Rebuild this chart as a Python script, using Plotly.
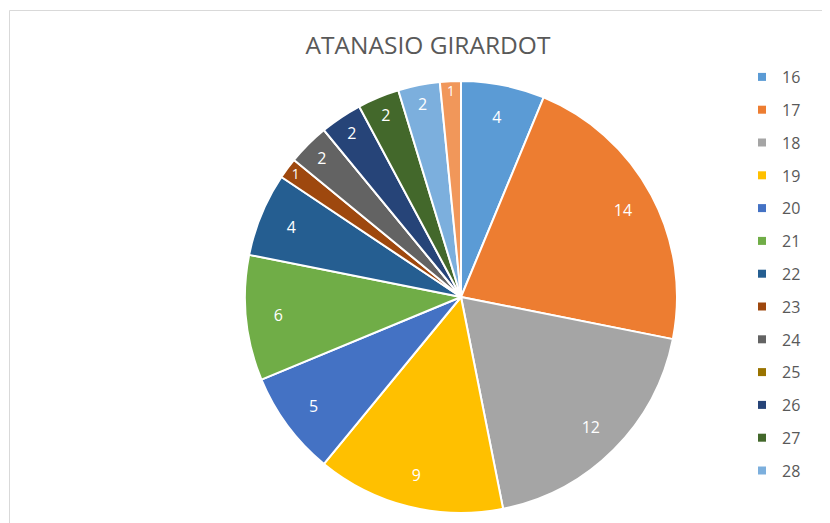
import plotly.graph_objs as go

# slice values, clockwise from 12 o'clock
ages = ['16', '17', '18', '19', '20', '21', '22', '23', '24', '25', '26', '27', '28', '29']
counts = [4, 14, 12, 9, 5, 6, 4, 1, 2, 0, 2, 2, 2, 1]
colors = ['#5B9BD5', '#ED7D31', '#A5A5A5', '#FFC000', '#4472C4', '#70AD47', '#255E91',
          '#9E480E', '#636363', '#997300', '#264478', '#43682B', '#7CAFDD', '#F1975A']
legend_ages = ages[:13]  # the legend in the original stops at 28

W, H = 830, 523
off = 8  # page body margin pushes the figure 8px right and down
cx, cy, r = 461 - off, 297 - off, 216
pie_domain = dict(x=[(cx - r) / W, (cx + r) / W], y=[(H - cy - r) / H, (H - cy + r) / H])

fig = go.Figure()

# coloured slices
fig.add_trace(
    go.Pie(
        labels=ages, values=counts, sort=False, direction='clockwise', rotation=0,
        marker=dict(colors=colors, line=dict(color='white', width=2)),
        textinfo='none', domain=pie_domain, showlegend=False, hoverinfo='label+value'
    )
)

# transparent ring on top that carries the value labels near the rim
fig.add_trace(
    go.Pie(
        labels=ages, values=counts, sort=False, direction='clockwise', rotation=0, hole=0.7,
        marker=dict(colors=['rgba(0,0,0,0)'] * len(ages), line=dict(width=0)),
        textinfo='value', textposition='inside', insidetextorientation='horizontal',
        textfont=dict(color='white', size=16, family='Open Sans'),
        domain=pie_domain, showlegend=False, hoverinfo='skip'
    )
)

# legend entries (one group each so the spacing can be set)
for age, col in zip(legend_ages, colors):
    fig.add_trace(
        go.Scatter(x=[None], y=[None], mode='markers', name=age, legendgroup=age,
                   marker=dict(symbol='square', size=8, color=col))
    )

fig.update_layout(
    width=W, height=H,
    margin=dict(l=0, r=0, t=0, b=0),
    paper_bgcolor='white', plot_bgcolor='white',
    title=dict(text='ATANASIO GIRARDOT', x=(428 - off) / W, xanchor='center',
               y=1 - (45 - off) / H, yanchor='middle',
               font=dict(family='Open Sans', size=24.5, color='#595959')),
    xaxis=dict(visible=False), yaxis=dict(visible=False),
    legend=dict(x=(742 - off) / W, xanchor='left', y=1 - (60 - off) / H, yanchor='top', tracegroupgap=9,
                font=dict(family='Open Sans', size=16, color='#595959'), bgcolor='rgba(0,0,0,0)'),
    shapes=[dict(type='rect', xref='paper', yref='paper', x0=(9.5 - off) / W, x1=1.05, y0=-0.05,
                 y1=1 - (10.5 - off) / H, line=dict(color='#d9d9d9', width=1))]
)

fig.write_html("out.html")
